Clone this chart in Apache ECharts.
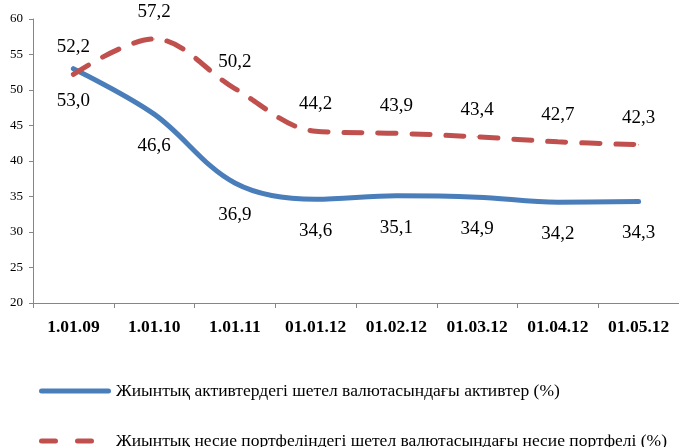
<!DOCTYPE html>
<html>
<head>
<meta charset="utf-8">
<script src="https://cdn.jsdelivr.net/npm/echarts@6/dist/echarts.min.js"></script>
<style>
  html, body { margin: 0; padding: 0; background: #fff; }
  #chart { width: 679px; height: 447px; }
</style>
</head>
<body>
<div id="chart"></div>
<script>
// даты
var categories = ['1.01.09', '1.01.10', '1.01.11', '01.01.12', '01.02.12', '01.03.12', '01.04.12', '01.05.12'];
var assetsShare = [53.0, 46.6, 36.9, 34.6, 35.1, 34.9, 34.2, 34.3];
var loanShare = [52.2, 57.2, 50.2, 44.2, 43.9, 43.4, 42.7, 42.3];
var seriesNames = [
  'Жиынтық активтердегі шетел валютасындағы активтер (%)',
  'Жиынтық несие портфеліндегі шетел валютасындағы несие портфелі (%)'
];
var yTicks = { min: 20, max: 60, step: 5 };

function fmt(p) {
  return p.value.toFixed(1).replace('.', ',');
}

var myChart = echarts.init(document.getElementById('chart'));
var serif = '"Liberation Serif", "Times New Roman", serif';
var legendText = { fontFamily: serif, fontSize: 17.5, color: '#000' };
var option = {
  backgroundColor: '#fff',
  animation: false,
  grid: { left: 33, top: 19, width: 661, height: 284, containLabel: false },
  // легенда по одной строке
  legend: [{
    left: 34,
    top: 377,
    itemWidth: 72,
    itemHeight: 5,
    itemGap: 4,
    icon: 'path://M2.5,0H69.5A2.5,2.5,0,0,1,69.5,5H2.5A2.5,2.5,0,0,1,2.5,0Z',
    textStyle: legendText,
    data: [seriesNames[0]]
  }, {
    left: 34,
    top: 427,
    itemWidth: 72,
    itemHeight: 5,
    itemGap: 4,
    icon: 'path://M2.5,0H16.5A2.5,2.5,0,0,1,16.5,5H2.5A2.5,2.5,0,0,1,2.5,0Z M38.5,0H52.5A2.5,2.5,0,0,1,52.5,5H38.5A2.5,2.5,0,0,1,38.5,0Z M72,0V5',
    textStyle: legendText,
    data: [seriesNames[1]]
  }],
  xAxis: {
    type: 'category',
    data: categories,
    boundaryGap: true,
    axisLine: { lineStyle: { color: '#868686', width: 1 } },
    axisTick: { show: true, length: 5, lineStyle: { color: '#868686' } },
    axisLabel: { fontFamily: serif, fontSize: 17.5, fontWeight: 'bold', color: '#000', margin: 15, interval: 0 }
  },
  yAxis: {
    type: 'value',
    min: yTicks.min,
    max: yTicks.max,
    interval: yTicks.step,
    splitLine: { show: false },
    axisLine: { show: true, lineStyle: { color: '#868686', width: 1 } },
    axisTick: { show: true, length: 4, lineStyle: { color: '#868686' } },
    axisLabel: { fontFamily: serif, fontSize: 13, color: '#000', margin: 10 }
  },
  series: [{
    name: seriesNames[0],
    type: 'line',
    smooth: 0.35,
    data: assetsShare,
    symbol: 'circle',
    symbolSize: 1,
    itemStyle: { color: '#4a7ebb' },
    lineStyle: { color: '#4a7ebb', width: 5, cap: 'round' },
    label: {
      show: true,
      position: 'bottom',
      distance: 22,
      formatter: fmt,
      fontFamily: serif,
      fontSize: 19,
      color: '#000'
    },
    z: 2
  }, {
    name: seriesNames[1],
    type: 'line',
    smooth: 0.35,
    data: loanShare,
    symbol: 'circle',
    symbolSize: 1,
    itemStyle: { color: '#c0504d' },
    lineStyle: { color: '#c0504d', width: 5, type: [18, 16], cap: 'round' },
    label: {
      show: true,
      position: 'top',
      distance: 17,
      formatter: fmt,
      fontFamily: serif,
      fontSize: 19,
      color: '#000'
    },
    z: 3
  }]
};
myChart.setOption(option);
</script>
</body>
</html>
